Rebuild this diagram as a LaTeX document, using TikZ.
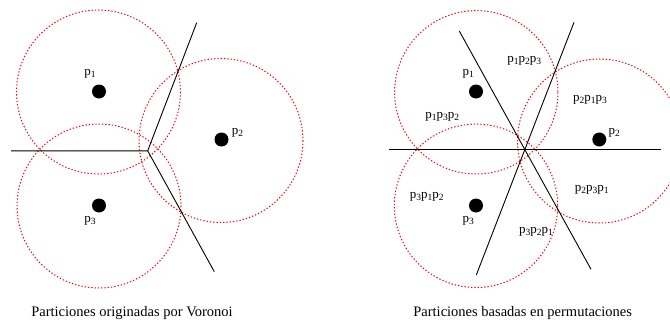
\documentclass[tikz,border=0pt]{standalone}
\usepackage{fontspec}
\setmainfont{Liberation Serif}
\newcommand{\pp}[1]{p\raisebox{-0.35ex}{\fontsize{9.5}{10}\selectfont #1}}
\begin{document}
\begin{tikzpicture}[x=1pt,y=-1pt,
  zone/.style={draw=red, dash pattern=on 1.3pt off 2pt, line width=1pt},
  sep/.style={draw=black, line width=0.9pt},
  site/.style={circle, fill=black, inner sep=0pt, minimum size=14pt},
  lbl/.style={font=\fontsize{13}{15}\selectfont, inner sep=0pt},
  captext/.style={font=\fontsize{14.5}{16}\selectfont, inner sep=0pt}]
\useasboundingbox (0,0) rectangle (670,324);
% ---------- left panel ----------
\node[site] (a1) at (99,91.5) {};
\node[site] (a2) at (221.5,139.5) {};
\node[site] (a3) at (99,205.5) {};
\draw[zone] (98.5,92) circle (82);
\draw[zone] (221,140.5) circle (82);
\draw[zone] (99,206) circle (82);
\coordinate (av) at (147.7,150.8);
\coordinate (aw) at (11,150.8);
\coordinate (an) at (196.7,22.7);
\coordinate (as) at (214.3,271.7);
\draw[sep] (aw) -- (av) -- (an);
\draw[sep] (av) -- (as);
\node[lbl] (la1) at (90,74) {\pp{1}};
\node[lbl] (la2) at (237.5,133) {\pp{2}};
\node[lbl] (la3) at (90,220.5) {\pp{3}};
\node[captext] (ca) at (132,313) {Particiones originadas por Voronoi};
% ---------- right panel ----------
\node[site] (b1) at (476,91.5) {};
\node[site] (b2) at (599.3,139.5) {};
\node[site] (b3) at (476,205.5) {};
\draw[zone] (476.3,92.3) circle (81.7);
\draw[zone] (599.5,141) circle (82);
\draw[zone] (476,205.8) circle (81.7);
\coordinate (bw) at (389,149.5);
\coordinate (be) at (660.7,149.5);
\coordinate (bnw) at (459.3,31);
\coordinate (bse) at (591,269.3);
\coordinate (bne) at (574,22.3);
\coordinate (bsw) at (476.3,275);
\draw[sep] (bw) -- (be);
\draw[sep] (bnw) -- (bse);
\draw[sep] (bne) -- (bsw);
\node[lbl] (lb1) at (468.3,74) {\pp{1}};
\node[lbl] (lb2) at (614.3,133) {\pp{2}};
\node[lbl] (lb3) at (468.3,220.5) {\pp{3}};
\node[lbl] (r123) at (524.3,60.5) {\pp{1}\pp{2}\pp{3}};
\node[lbl] (r213) at (590,100) {\pp{2}\pp{1}\pp{3}};
\node[lbl] (r132) at (442.3,117) {\pp{1}\pp{3}\pp{2}};
\node[lbl] (r312) at (426.7,197) {\pp{3}\pp{1}\pp{2}};
\node[lbl] (r231) at (591.7,190) {\pp{2}\pp{3}\pp{1}};
\node[lbl] (r321) at (536,232) {\pp{3}\pp{2}\pp{1}};
\node[captext] (cb) at (522.7,313) {Particiones basadas en permutaciones};
\end{tikzpicture}
\end{document}
